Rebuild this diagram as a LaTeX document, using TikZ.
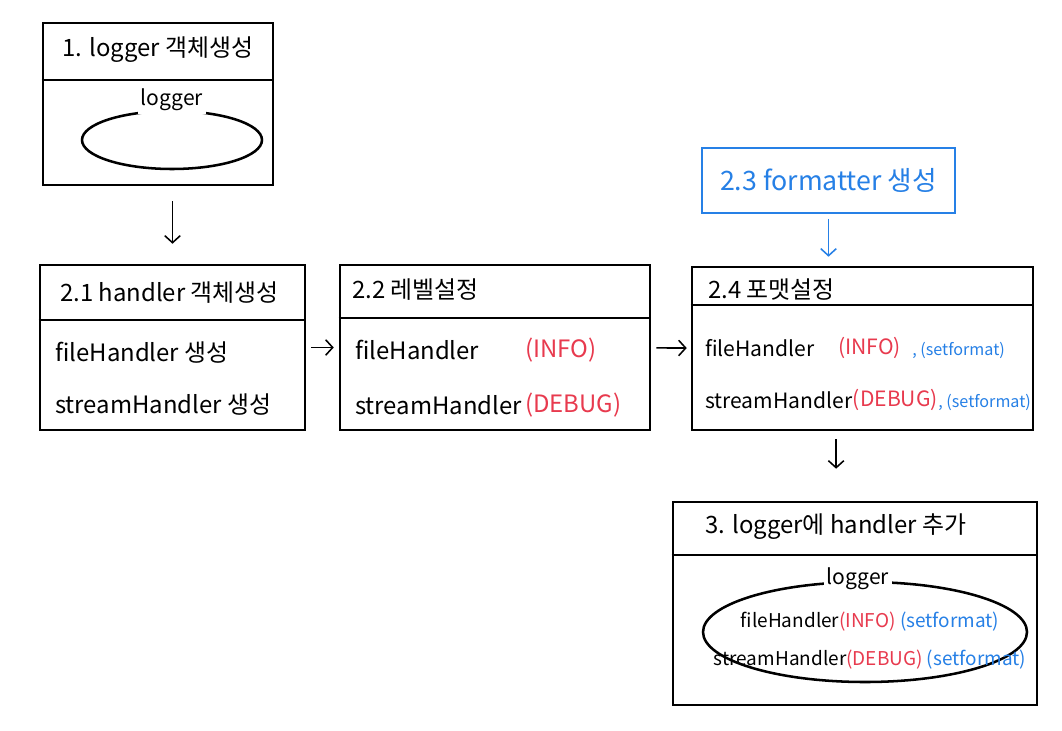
\documentclass[tikz,border=0pt]{standalone}
\usepackage{fontspec}
\setmainfont{Noto Sans CJK KR}
\usetikzlibrary{arrows.meta,shapes.geometric}
\definecolor{inkred}{RGB}{232,58,78}
\definecolor{inkblue}{RGB}{38,128,230}
\tikzset{
  card/.style 2 args={draw, line width=1.8pt, minimum width=#1*0.025cm,
    minimum height=#2*0.025cm, inner sep=0pt},
  rule/.style={line width=1.8pt},
  title/.style={anchor=west, inner sep=0pt, font=\fontsize{17}{20}\selectfont},
  entry/.style={anchor=west, inner sep=0pt, font=\fontsize{17}{20}\selectfont},
  tight/.style={anchor=west, inner sep=0pt, font=\fontsize{15}{18}\selectfont},
  small/.style={anchor=west, inner sep=0pt, text=inkblue, font=\fontsize{11.5}{13}\selectfont},
  bag/.style={draw, ellipse, line width=1.8pt, inner sep=0pt},
  tag/.style={fill=white, inner sep=2pt, font=\fontsize{15}{18}\selectfont},
  flow/.style={-{Straight Barb[length=5pt,width=11pt]}, line width=1.1pt},
}
\begin{document}
\begin{tikzpicture}[x=0.025cm, y=-0.025cm]
  \useasboundingbox[fill=white] (0,0) rectangle (1062,730);
  % 1. logger
  \node[card={230}{162}] (b1) at (158,104) {};
  \draw[rule] (b1.west |- 0,80) -- (b1.east |- 0,80);
  \node[title] (t1) at (62,50) {1. logger 객체생성};
  \node[bag, minimum width=180*0.025cm, minimum height=58*0.025cm] (e1) at (172,140) {};
  \node[tag] (n1) at (172,100) {logger};
  % 2.1 handler
  \node[card={265}{165}] (b21) at (172.5,347.5) {};
  \draw[rule] (b21.west |- 0,320) -- (b21.east |- 0,320);
  \node[title] (t21) at (60,293) {2.1 handler 객체생성};
  \node[entry] (f21) at (55,353) {fileHandler 생성};
  \node[entry] (s21) at (55,405) {streamHandler 생성};
  % 2.2 level
  \node[card={310}{165}] (b22) at (495,347.5) {};
  \draw[rule] (b22.west |- 0,318) -- (b22.east |- 0,318);
  \node[title] (t22) at (352,290) {2.2 레벨설정};
  \node[entry] (f22) at (355,350) {fileHandler};
  \node[entry, text=inkred] (i22) at (525,350) {(INFO)};
  \node[entry] (s22) at (355,405) {streamHandler};
  \node[entry, text=inkred] (d22) at (525,405) {(DEBUG)};
  % 2.3 formatter
  \node[card={253}{65}, draw=inkblue, line width=1.3pt, text=inkblue,
    font=\fontsize{19}{22}\selectfont] (b23) at (828.5,180.5) {2.3 formatter 생성};
  % 2.4 format
  \node[card={341}{163}] (b24) at (862.5,348.5) {};
  \draw[rule] (b24.west |- 0,305) -- (b24.east |- 0,305);
  \node[title] (t24) at (708,290) {2.4 포맷설정};
  \node[tight] (f24) at (705,348) {fileHandler};
  \node[tight, text=inkred] (i24) at (838,348) {(INFO)};
  \node[small] (g24) at (912,350) {, (setformat)};
  \node[tight] (s24) at (705,400) {streamHandler};
  \node[tight, text=inkred] (d24) at (s24.east) {(DEBUG)};
  \node[small] (h24) at ([yshift=-0.05cm]d24.east) {, (setformat)};
  % 3. add handler
  \node[card={364}{203}] (b3) at (855,603.5) {};
  \draw[rule] (b3.west |- 0,555) -- (b3.east |- 0,555);
  \node[title] (t3) at (705,527) {3. logger에 handler 추가};
  \node[bag, minimum width=324*0.025cm, minimum height=100*0.025cm] (e3) at (865,632) {};
  \node[tag] (n3) at (858,579) {logger};
  \node[font=\fontsize{13.5}{16}\selectfont, inner sep=0pt] (f3) at (870,622)
    {fileHandler\textcolor{inkred}{(INFO)} \textcolor{inkblue}{(setformat)}};
  \node[font=\fontsize{13.5}{16}\selectfont, inner sep=0pt] (s3) at (870,660)
    {streamHandler\textcolor{inkred}{(DEBUG)} \textcolor{inkblue}{(setformat)}};
  % arrows
  \draw[flow, shorten <=0.375cm, shorten >=0.5cm] (b21.north |- b1.south) -- (b21.north);
  \draw[flow, shorten <=0.125cm, shorten >=0.125cm] (b21) -- (b22);
  \draw[flow, shorten <=0.125cm, shorten >=0.1cm] (b22) -- (b24);
  \draw[flow, inkblue, shorten <=0.125cm, shorten >=0.225cm] (b23.south) -- (b23.south |- b24.north);
  \draw[flow, shorten <=0.2cm, shorten >=0.8cm]
    ([xshift=-0.66cm]b24.south) -- ([xshift=-0.66cm]b24.south |- b3.north);
\end{tikzpicture}
\end{document}
